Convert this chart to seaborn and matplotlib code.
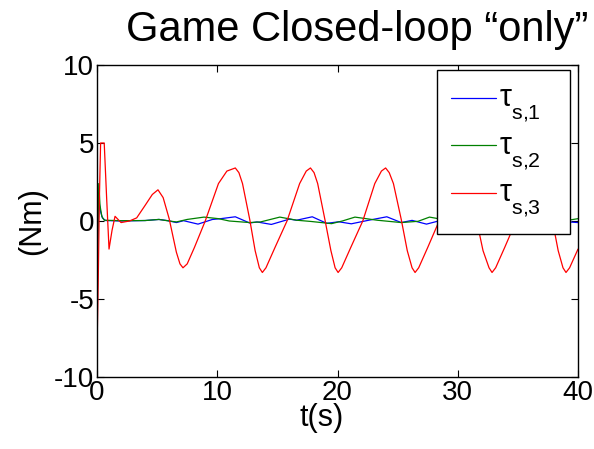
import matplotlib
matplotlib.use("Agg")
import matplotlib.pyplot as plt
import numpy as np
import pandas as pd
import seaborn as sns

# Joint torques of the closed-loop game controller (Nm) over time (s)
t_s1 = [0.0, 0.08, 0.18, 0.3, 0.45, 0.7, 2.0, 4.0, 5.15, 5.9, 6.6, 7.2, 8.4, 9.6,
        10.3, 11.5, 12.7, 13.3, 14.5, 16.0, 16.6, 17.9, 19.1, 20.1, 21.15, 22.6,
        24.1, 25.3, 26.2, 27.4, 28.6, 30.3, 31.5, 32.4, 33.6, 35.0, 36.6, 37.8,
        38.6, 40.0]
tau_s1 = [-2.6, -0.5, 1.2, 0.6, 0.2, 0.03, 0.0, 0.03, 0.1, 0.02, -0.1, 0.02, -0.2,
          0.1, 0.15, 0.27, -0.13, -0.06, -0.22, 0.12, 0.05, 0.27, -0.15, -0.05,
          -0.18, 0.05, 0.27, -0.1, 0.04, -0.2, 0.04, 0.25, -0.12, -0.03, -0.2,
          0.05, 0.25, -0.12, -0.03, -0.1]

t_s2 = [0.0, 0.05, 0.15, 0.25, 0.4, 0.6, 2.0, 4.0, 5.15, 6.0, 6.6, 7.5, 8.9, 10.1,
        11.0, 12.7, 13.6, 15.2, 16.6, 17.8, 19.5, 20.4, 21.45, 23.3, 25.3, 26.7,
        27.65, 29.1, 30.0, 31.7, 32.6, 33.9, 35.3, 37.8, 38.8, 40.0]
tau_s2 = [-5.5, -2.0, 2.4, 1.0, 0.3, 0.05, 0.02, 0.03, 0.1, 0.0, -0.06, 0.1, 0.25,
          0.15, 0.0, -0.1, -0.06, 0.25, 0.05, -0.03, -0.17, 0.0, 0.25, 0.05, -0.1,
          -0.02, 0.25, 0.05, -0.02, -0.15, 0.0, 0.25, 0.05, -0.15, 0.0, 0.15]

t_s3 = [0.0, 0.1, 0.2, 0.3, 0.6, 0.8, 1.0, 1.25, 1.5, 2.0, 2.7, 3.3, 4.0, 4.6,
        5.07, 5.5, 6.0, 6.6, 6.9, 7.15, 7.5, 8.1, 9.0, 10.1, 10.8, 11.5,
        11.8, 12.1, 12.7, 13.15, 13.5, 13.75, 14.05, 14.8, 15.8, 16.85, 17.4, 17.75,
        18.05, 18.35, 18.95, 19.45, 19.8, 20.05, 20.35, 21.1, 22.1, 23.1, 23.65, 24.0,
        24.3, 24.65, 25.3, 25.8, 26.2, 26.45, 26.75, 27.5, 28.45, 29.5, 30.0, 30.3,
        30.6, 30.9, 31.55, 32.1, 32.6, 32.85, 33.15, 33.9, 34.85, 35.85, 36.3, 36.65,
        36.95, 37.25, 37.85, 38.35, 38.75, 39.0, 39.3, 40.0]
tau_s3 = [-8.2, -4.0, 1.5, 5.0, 5.0, 1.5, -1.8, -0.6, 0.3, -0.1, 0.0, 0.2, 1.0, 1.7,
          2.0, 1.5, 0.15, -2.0, -2.75, -3.0, -2.75, -1.7, 0.0, 2.4, 3.2, 3.4,
          3.1, 2.4, 0.1, -1.9, -3.0, -3.3, -3.0, -1.7, 0.0, 2.4, 3.2, 3.4,
          3.1, 2.4, 0.1, -1.9, -3.0, -3.3, -3.0, -1.7, 0.0, 2.4, 3.2, 3.4,
          3.1, 2.4, 0.1, -1.9, -3.0, -3.3, -3.0, -1.7, 0.0, 2.4, 3.2, 3.4,
          3.1, 2.4, 0.1, -1.9, -3.0, -3.3, -3.0, -1.7, 0.0, 2.4, 3.2, 3.4,
          3.1, 2.4, 0.1, -1.9, -3.0, -3.3, -3.0, -1.8]

series_labels = [r"$\mathrm{\tau}_{\text{s,1}}$",
                 r"$\mathrm{\tau}_{\text{s,2}}$",
                 r"$\mathrm{\tau}_{\text{s,3}}$"]
series_colors = ["#0000ff", "#008000", "#ff0000"]
x_ticks = [0, 10, 20, 30, 40]
y_ticks = [-10, -5, 0, 5, 10]

frames = []
for lab, tt, vv in zip(series_labels, [t_s1, t_s2, t_s3], [tau_s1, tau_s2, tau_s3]):
    frames.append(pd.DataFrame({"t": tt, "torque": vv, "series": lab}))
df = pd.concat(frames, ignore_index=True)

sns.set_style("ticks")
plt.rcParams["font.family"] = ["Liberation Sans", "DejaVu Sans"]
plt.rcParams["mathtext.fontset"] = "custom"
plt.rcParams["mathtext.rm"] = "Liberation Sans"
plt.rcParams["mathtext.it"] = "Liberation Sans:italic"
plt.rcParams["axes.unicode_minus"] = False
for key in ("text.color", "axes.labelcolor", "xtick.color", "ytick.color"):
    plt.rcParams[key] = "black"

# deeper subscript drop, so the index sits mostly below the symbol
try:
    from matplotlib import _mathtext
    _mathtext.FontConstantsBase.sub1 = 0.82
except Exception:
    pass

fig = plt.figure(figsize=(5.94, 4.49), dpi=100)
ax = fig.add_axes([0.1633, 0.1604, 0.8098, 0.6948])

sns.lineplot(data=df, x="t", y="torque", hue="series", hue_order=series_labels,
             palette=series_colors, estimator=None, sort=False, linewidth=0.9,
             ax=ax)

ax.set_xlim(0, 40)
ax.set_ylim(-10, 10)
ax.set_xticks(x_ticks)
ax.set_yticks(y_ticks)
ax.tick_params(direction="in", top=True, right=True, length=5, width=0.8,
               labelsize=20, colors="black", pad=2)
for sp in ax.spines.values():
    sp.set_visible(True)
    sp.set_color("black")
    sp.set_linewidth(1.0)

ax.set_xlabel("t(s)", fontsize=22)
ax.xaxis.set_label_coords(0.466, -0.083, transform=ax.transAxes)
ax.xaxis.label.set_va("top")
ax.set_ylabel("(Nm)", fontsize=22, labelpad=5)

fig.text(0.601, 1 - 41 / 449, "Game Closed-loop \u201conly\u201d", fontsize=30,
         ha="center", va="baseline")

leg = ax.legend(loc="upper left", bbox_to_anchor=(0.707, 0.478, 0.276, 0.506),
                mode="expand", frameon=True, fancybox=False, edgecolor="black",
                framealpha=1, fontsize=22, handlelength=1.47, handleheight=0.35,
                labelspacing=0.2, borderpad=0.45, handletextpad=0.1,
                borderaxespad=0)
leg.get_frame().set_linewidth(1.0)

fig.savefig("out.png", dpi=100)
